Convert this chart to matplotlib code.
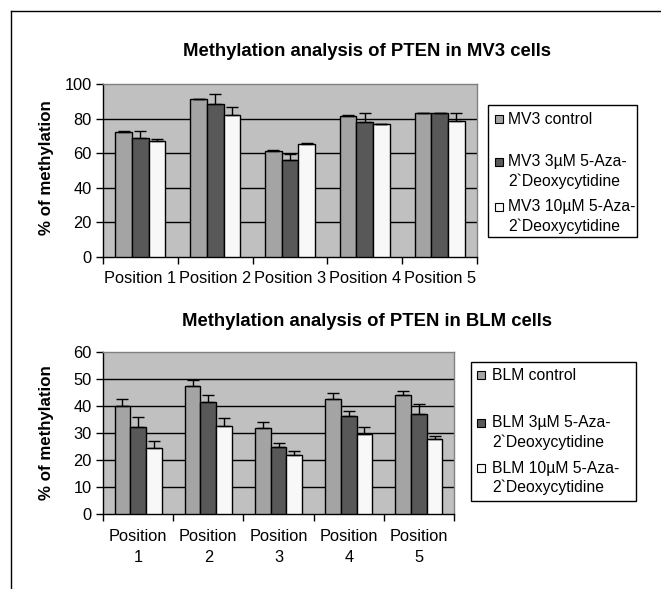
import numpy as np
import matplotlib
matplotlib.use("Agg")
import matplotlib.pyplot as plt
from matplotlib.patches import Rectangle
from matplotlib.lines import Line2D

plt.rcParams["font.family"] = ["Liberation Sans", "DejaVu Sans"]

W, H = 661, 589

positions_top = ["Position 1", "Position 2", "Position 3", "Position 4", "Position 5"]
positions_bottom = ["Position\n1", "Position\n2", "Position\n3", "Position\n4", "Position\n5"]

mv3_labels = ["MV3 control", "MV3 3µM 5-Aza-\n2`Deoxycytidine", "MV3 10µM 5-Aza-\n2`Deoxycytidine"]
mv3_control = [72.4, 91.2, 61.4, 81.5, 83.4]
mv3_control_err = [0.6, 0.4, 0.5, 0.5, 0.0]
mv3_3um = [69.0, 88.4, 55.9, 77.9, 83.4]
mv3_3um_err = [4.0, 6.0, 3.5, 5.5, 0.0]
mv3_10um = [67.0, 82.1, 65.5, 76.7, 78.8]
mv3_10um_err = [1.4, 4.8, 0.5, 0.0, 4.2]

blm_labels = ["BLM control", "BLM 3µM 5-Aza-\n2`Deoxycytidine", "BLM 10µM 5-Aza-\n2`Deoxycytidine"]
blm_control = [40.0, 47.3, 31.7, 42.6, 44.1]
blm_control_err = [2.7, 2.3, 2.3, 2.4, 1.3]
blm_3um = [32.2, 41.6, 24.8, 36.2, 37.0]
blm_3um_err = [3.9, 2.5, 1.5, 2.0, 3.8]
blm_10um = [24.4, 32.7, 22.0, 29.6, 27.6]
blm_10um_err = [2.8, 2.7, 1.3, 2.7, 1.2]

bar_colors = ["#a4a4a4", "#585858", "#f8f8f8"]
FS = 11.8
LFS = 11.3


def fx(px):
    return px / W


def fy(py):
    return 1 - py / H


def draw_panel(ax, names, series, errs, ymax, ystep, pad):
    ax.set_facecolor("#c0c0c0")
    x = np.arange(len(names))
    bw = 0.223
    for i, (vals, err) in enumerate(zip(series, errs)):
        off = (i - 1) * bw
        ax.bar(x + off, vals, bw, color=bar_colors[i], edgecolor="black",
               linewidth=1.0, zorder=3)
        ax.errorbar(x + off, vals, yerr=[np.zeros(len(vals)), err], fmt="none",
                    ecolor="black", elinewidth=1.0, capsize=4, capthick=1.0, zorder=4)
    ax.set_xlim(-0.5, len(names) - 0.5)
    ax.set_ylim(0, ymax)
    ax.set_yticks(np.arange(0, ymax + 1, ystep))
    for y in np.arange(ystep, ymax, ystep):
        ax.axhline(y, color="black", linewidth=1.0, zorder=1)
    ax.set_xticks(np.arange(-0.5, len(names), 1.0))
    ax.set_xticklabels([])
    ax.set_xticks(x, minor=True)
    ax.set_xticklabels(names, minor=True, fontsize=FS, linespacing=1.45)
    ax.tick_params(axis="x", which="major", direction="out", length=5, width=1)
    ax.tick_params(axis="x", which="minor", length=0, pad=pad)
    ax.tick_params(axis="y", direction="out", length=5, width=1, labelsize=FS, pad=3)
    for s in ["top", "right"]:
        ax.spines[s].set_color("#808080")
        ax.spines[s].set_linewidth(1.0)
    for s in ["left", "bottom"]:
        ax.spines[s].set_color("black")
        ax.spines[s].set_linewidth(1.0)


def draw_legend(fig, box, labels, rows, mx, tx):
    x0, y0, x1, y1 = box
    fig.patches.append(Rectangle((fx(x0), fy(y1)), fx(x1 - x0), (y1 - y0) / H,
                                 transform=fig.transFigure, facecolor="white",
                                 edgecolor="black", linewidth=1.0))
    for i, (lab, yc) in enumerate(zip(labels, rows)):
        fig.patches.append(Rectangle((fx(mx - 4), fy(yc + 4)), fx(8), 8 / H,
                                     transform=fig.transFigure, facecolor=bar_colors[i],
                                     edgecolor="black", linewidth=0.8))
        lines = lab.split("\n")
        fig.text(fx(tx), fy(yc), lines[0], fontsize=LFS, va="center", ha="left")
        if len(lines) > 1:
            fig.text(fx(tx), fy(yc + 19), lines[1], fontsize=LFS, va="center", ha="left")


fig = plt.figure(figsize=(W / 100, H / 100), dpi=100)

# outer frame (top and left edges visible)
fig.add_artist(Line2D([fx(11), fx(661)], [fy(11), fy(11)], color="black", linewidth=1.0,
                      transform=fig.transFigure))
fig.add_artist(Line2D([fx(11), fx(11)], [fy(11), fy(589)], color="black", linewidth=1.0,
                      transform=fig.transFigure))

ax1 = fig.add_axes([fx(103), fy(257), fx(477 - 103), (257 - 84) / H])
draw_panel(ax1, positions_top, [mv3_control, mv3_3um, mv3_10um],
           [mv3_control_err, mv3_3um_err, mv3_10um_err], 100, 20, 10)

ax2 = fig.add_axes([fx(103), fy(514), fx(454 - 103), (514 - 352) / H])
draw_panel(ax2, positions_bottom, [blm_control, blm_3um, blm_10um],
           [blm_control_err, blm_3um_err, blm_10um_err], 60, 10, 11)

fig.text(fx(367), fy(51), "Methylation analysis of PTEN in MV3 cells",
         fontsize=13.3, fontweight="bold", ha="center", va="center")
fig.text(fx(367), fy(321), "Methylation analysis of PTEN in BLM cells",
         fontsize=13.3, fontweight="bold", ha="center", va="center")

fig.text(fx(47), fy(168), "% of methylation", fontsize=12.2, fontweight="bold",
         rotation=90, ha="center", va="center")
fig.text(fx(47), fy(433), "% of methylation", fontsize=12.2, fontweight="bold",
         rotation=90, ha="center", va="center")

draw_legend(fig, (488, 105, 637, 237), mv3_labels, [119, 162, 207], 499, 508)
draw_legend(fig, (471, 362, 636, 501), blm_labels, [375, 423, 468], 481, 492)

fig.savefig("out.png", dpi=100)
